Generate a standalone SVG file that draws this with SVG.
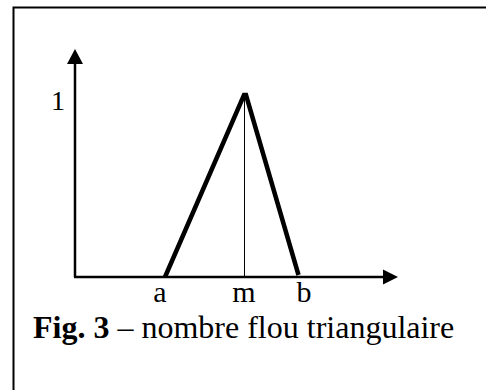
<svg xmlns="http://www.w3.org/2000/svg" width="486" height="390" viewBox="0 0 486 390">
<style>
.t{font-family:"Liberation Serif","Times New Roman",serif;fill:#000}
.ax{stroke:#000;stroke-width:2.5;fill:none}
.tri{stroke:#000;stroke-width:4.5;fill:none;stroke-linejoin:miter}
</style>
<defs>
<marker id="ah" markerWidth="6" markerHeight="6" refX="0" refY="3" orient="auto" markerUnits="userSpaceOnUse" viewBox="0 0 6 6">
<path d="M0,0 L6,3 L0,6 z" fill="#000"/>
</marker>
</defs>
<rect width="486" height="390" fill="#fff"/>
<g id="frame"><path d="M486,7.5 H13.5 V390" fill="none" stroke="#000" stroke-width="2"/></g>
<g id="connectors">
<line x1="75" y1="277" x2="75" y2="64" class="ax"/>
<path d="M67,64 L75,49 L83,64 z" fill="#000"/>
<line x1="74" y1="277" x2="384" y2="277" class="ax"/>
<path d="M383,269.5 L398,277 L383,284.5 z" fill="#000"/>
<line x1="244.5" y1="95" x2="244.5" y2="277" stroke="#000" stroke-width="1"/>
<path d="M165,277 L244,95 L246,95 L298.5,275" class="tri"/>
</g>
<g id="labels">
<text class="t" x="51" y="110" font-size="28">1</text>
<text class="t" x="160" y="302" font-size="30" text-anchor="middle">a</text>
<text class="t" x="244" y="302" font-size="30" text-anchor="middle">m</text>
<text class="t" x="304" y="302" font-size="30" text-anchor="middle">b</text>
<text class="t" x="33" y="338" font-size="32"><tspan font-weight="bold">Fig. 3</tspan> – nombre flou triangulaire</text>
</g>
</svg>
